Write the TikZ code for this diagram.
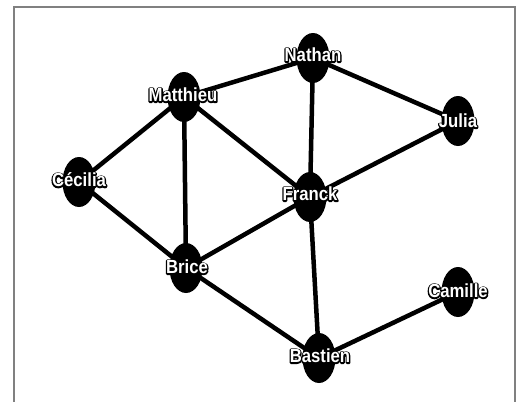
\documentclass[tikz,border=0pt]{standalone}
\usepackage{fontspec}
\setmainfont{Liberation Sans}
\newfontfamily\lblfont{Liberation Sans}[FakeStretch=0.88]
\usetikzlibrary{shapes.geometric, backgrounds}
\tikzset{
    vtx/.style={ellipse, fill=black, minimum width=33pt,
                minimum height=50pt, inner sep=0pt},
    lbl/.style={font=\fontsize{19}{19}\lblfont\bfseries, text=white,
                inner sep=0pt},
    edg/.style={line width=4.5pt, draw=black}
}
% white letters with a black outline: stroke pass, then plain fill pass
\newcommand{\vname}[1]{%
  \rlap{\special{pdf:literal direct 1 Tr 0 G 2.6 w 1 j}#1%
  \special{pdf:literal direct 0 Tr}}#1}

\begin{document}
\begin{tikzpicture}[x=1pt, y=-1pt]
\useasboundingbox (0,0) rectangle (528,402);

% ── Frame ─────────────────────────────────────────────────────────────
\draw[black!50, line width=2pt] (14,402) -- (14,7) -- (515,7) -- (515,402);

% ── Vertices ──────────────────────────────────────────────────────────
\node[vtx] at (184,97)  (mat) {};
\node[vtx] at (313,58)  (nat) {};
\node[vtx] at (458,121) (jul) {};
\node[vtx] at (79,182)  (cec) {};
\node[vtx] at (310,197) (fra) {};
\node[vtx] at (186,268) (bri) {};
\node[vtx] at (319,358) (bas) {};
\node[vtx] at (458,292) (cam) {};

% ── Labels ────────────────────────────────────────────────────────────
\node[lbl] at (183,95)  (mat-l) {\vname{Matthieu}};
\node[lbl] at (313,55)  (nat-l) {\vname{Nathan}};
\node[lbl] at (458,121) (jul-l) {\vname{Julia}};
\node[lbl] at (79,180)  (cec-l) {\vname{Cécilia}};
\node[lbl] at (310,194) (fra-l) {\vname{Franck}};
\node[lbl] at (187,267) (bri-l) {\vname{Brice}};
\node[lbl] at (320,356) (bas-l) {\vname{Bastien}};
\node[lbl] at (458,291) (cam-l) {\vname{Camille}};

% ── Edges ─────────────────────────────────────────────────────────────
\begin{scope}[on background layer]
\draw[edg] (mat.center) -- (nat.center);
\draw[edg] (nat.center) -- (jul.center);
\draw[edg] (nat.center) -- (fra.center);
\draw[edg] (mat.center) -- (cec.center);
\draw[edg] (mat.center) -- (bri.center);
\draw[edg] (mat.center) -- (fra.center);
\draw[edg] (jul.center) -- (fra.center);
\draw[edg] (cec.center) -- (bri.center);
\draw[edg] (bri.center) -- (fra.center);
\draw[edg] (fra.center) -- (bas.center);
\draw[edg] (bri.center) -- (bas.center);
\draw[edg] (bas.center) -- (cam.center);
\end{scope}
\end{tikzpicture}
\end{document}
